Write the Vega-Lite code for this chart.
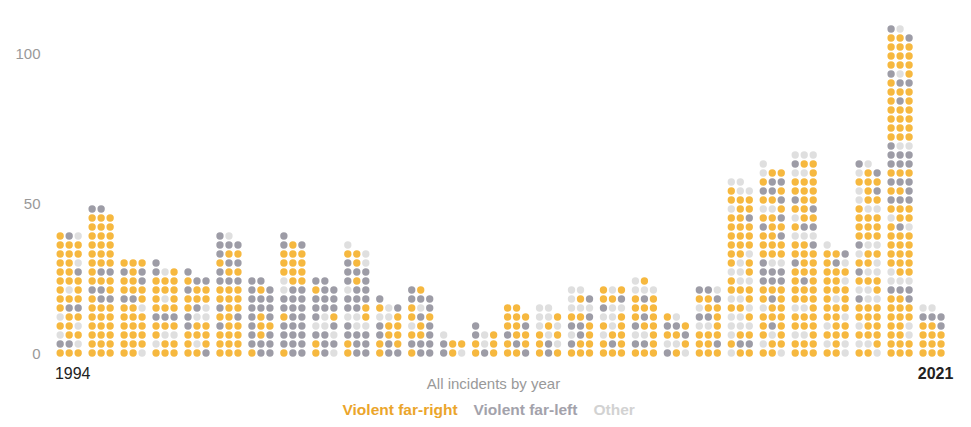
{
  "$schema": "https://vega.github.io/schema/vega-lite/v6.json",
  "width": 914,
  "height": 339,
  "autosize": {"type": "none"},
  "padding": {"left": 50, "top": 20, "right": 7, "bottom": 68},
  "background": "white",
  "config": {"view": {"stroke": null}, "font": "Liberation Sans"},
  "data": {"values": [
    {"year": 1994, "dots": ["O","O","O","G","G","L","L","O","O","O","O","L","L","O","O","O","G","G","O","O","O","O","L","O","O","O","O","O","O","G","O","O","L","O","O","O","O","O","O","O","G","L"]},
    {"year": 1995, "dots": ["O","O","O","O","O","O","O","O","O","O","O","O","O","O","O","O","O","O","O","G","G","G","G","O","O","O","O","O","G","G","O","O","O","O","O","O","O","O","O","O","O","O","O","O","O","O","O","O","G","G"]},
    {"year": 1996, "dots": ["O","O","L","O","O","O","O","O","O","O","O","O","O","O","O","O","O","L","G","G","O","O","O","O","O","O","G","G","O","G","O","O","O"]},
    {"year": 1997, "dots": ["O","O","O","L","O","O","O","L","L","O","O","O","G","G","G","O","O","O","O","L","O","O","O","O","O","O","O","G","L","O","G"]},
    {"year": 1998, "dots": ["O","O","G","O","L","O","O","O","O","G","O","O","G","L","L","O","G","L","O","O","O","G","O","O","O","G","G","G"]},
    {"year": 1999, "dots": ["O","O","O","O","O","O","O","O","O","G","O","O","O","O","G","G","O","O","O","O","O","O","O","O","G","G","G","G","O","O","O","G","G","G","O","O","G","G","G","G","L"]},
    {"year": 2000, "dots": ["O","G","G","G","G","G","G","O","G","G","O","O","G","O","G","G","G","G","G","G","G","G","O","G","G","G"]},
    {"year": 2001, "dots": ["O","G","G","G","G","G","G","G","G","G","G","G","O","G","G","G","G","G","G","G","G","L","G","G","L","O","O","O","O","O","O","O","O","O","O","O","G","O","G","G"]},
    {"year": 2002, "dots": ["O","G","L","O","G","G","G","G","L","L","L","G","G","L","O","G","G","G","G","G","G","O","G","G","G","G"]},
    {"year": 2003, "dots": ["O","G","G","O","G","G","G","G","G","G","L","L","L","L","O","G","G","O","G","G","G","L","G","G","G","O","G","G","G","G","G","O","L","O","O","L","L"]},
    {"year": 2004, "dots": ["O","G","G","O","G","O","G","O","O","G","O","O","L","L","O","O","L","G","G"]},
    {"year": 2005, "dots": ["O","G","G","G","G","G","O","O","G","L","O","G","O","G","O","O","L","G","G","G","G","G","O"]},
    {"year": 2006, "dots": ["G","O","L","G","O","O","L"]},
    {"year": 2007, "dots": ["O","G","O","O","L","O","G","L","O","G"]},
    {"year": 2008, "dots": ["O","O","G","O","G","O","G","O","O","O","O","G","O","O","O","O","O"]},
    {"year": 2009, "dots": ["O","G","O","O","G","L","O","L","O","L","O","L","L","L","O","L","L"]},
    {"year": 2010, "dots": ["O","O","O","G","O","O","L","G","O","G","G","O","O","O","G","L","L","L","L","O","G","L","L"]},
    {"year": 2011, "dots": ["O","O","O","O","G","O","L","O","O","O","L","O","L","L","O","G","L","L","O","O","G","O","L","O"]},
    {"year": 2012, "dots": ["O","O","O","G","G","O","L","L","O","G","O","O","O","G","O","O","O","O","O","G","O","L","L","L","L","O"]},
    {"year": 2013, "dots": ["G","O","L","L","L","O","O","O","G","G","G","O","O","L"]},
    {"year": 2014, "dots": ["O","O","O","O","O","G","O","O","O","L","L","O","G","G","O","L","O","O","O","O","G","G","G","L"]},
    {"year": 2015, "dots": ["L","O","O","O","G","G","L","O","O","L","L","L","L","L","O","O","O","L","L","L","O","O","O","O","O","L","L","L","L","O","O","L","O","O","O","L","O","O","O","O","O","O","O","O","O","O","O","G","L","O","O","O","O","O","O","L","L","L","L"]},
    {"year": 2016, "dots": ["O","O","L","L","O","O","O","L","O","O","G","O","O","O","O","L","O","O","O","G","O","O","O","O","G","G","G","G","G","G","G","L","L","O","O","O","O","O","O","O","O","G","G","O","O","O","O","G","L","L","O","O","O","G","G","G","O","O","G","G","L","O","O","L"]},
    {"year": 2017, "dots": ["O","O","O","O","O","O","L","L","O","O","O","O","O","O","O","L","L","O","O","O","O","O","O","O","O","G","O","O","O","O","G","O","O","O","O","O","O","O","G","L","L","L","O","G","G","L","O","O","O","O","G","G","O","O","O","O","O","O","O","O","L","L","O","G","O","O","L","L","L"]},
    {"year": 2018, "dots": ["O","O","L","L","O","L","O","O","O","L","O","O","O","O","L","O","O","O","O","L","O","O","O","O","O","O","L","O","O","O","O","G","L","O","O","G","L"]},
    {"year": 2019, "dots": ["O","O","L","L","L","O","O","O","O","L","O","O","O","O","O","O","O","O","G","L","L","L","L","O","O","O","O","G","L","L","O","O","L","L","O","O","G","L","L","O","O","O","O","O","O","O","O","O","O","L","L","L","O","O","L","O","G","O","O","O","L","O","G","G","L"]},
    {"year": 2020, "dots": ["O","O","O","O","O","O","O","O","L","O","O","L","O","O","O","O","O","O","O","O","G","G","G","G","L","L","L","L","O","O","O","O","O","O","O","O","O","O","O","O","O","O","O","G","L","L","O","O","O","O","O","G","G","G","O","O","G","G","G","G","O","O","O","G","G","G","G","G","G","G","L","L","O","O","O","O","O","O","O","O","O","O","O","O","O","G","O","O","O","O","O","G","G","G","L","O","O","O","O","O","O","O","O","O","O","O","O","G","G","L"]},
    {"year": 2021, "dots": ["O","O","O","O","O","O","O","O","O","O","O","G","G","G","G","L","L"]}
  ]},
  "transform": [
    {"flatten": ["dots"], "as": ["c"]},
    {"window": [{"op": "row_number", "as": "i"}], "groupby": ["year"]},
    {"calculate": "datum.year + ((datum.i - 1) % 3 - 1) * 0.2816", "as": "xpos"},
    {"calculate": "floor((datum.i - 1) / 3) * 3", "as": "ypos"}
  ],
  "mark": {"type": "circle", "size": 54, "opacity": 1},
  "encoding": {
    "x": {
      "field": "xpos", "type": "quantitative",
      "scale": {"domain": [1993.4, 2022], "nice": false, "zero": false},
      "axis": {
        "values": [1994, 2021], "format": "d", "domain": false, "ticks": false, "grid": false,
        "labelFontSize": 16, "labelColor": "#222", "labelPadding": 6, "labelOffset": 3,
        "labelFontWeight": {"condition": {"test": "datum.value == 2021", "value": "bold"}, "value": "normal"},
        "title": "All incidents by year", "titleColor": "#999", "titleFontSize": 15, "titleFontWeight": "normal",
        "titleX": 443, "titleY": 24, "titleBaseline": "middle", "titleAlign": "center"
      }
    },
    "y": {
      "field": "ypos", "type": "quantitative",
      "scale": {"domain": [-2, 111], "nice": false, "zero": false},
      "axis": {
        "values": [0, 50, 100], "domain": false, "ticks": false, "grid": false,
        "labelColor": "#999", "labelFontSize": 15, "labelPadding": 10, "title": null
      }
    },
    "color": {
      "field": "c", "type": "nominal",
      "scale": {"domain": ["O", "G", "L"], "range": ["#f6b83f", "#9d9ca6", "#dfdfdf"]},
      "legend": {
        "title": null, "orient": "none", "legendX": 277, "legendY": 382, "direction": "horizontal",
        "symbolSize": 0, "symbolOpacity": 0, "symbolStrokeWidth": 0, "labelOffset": 0, "columnPadding": -1,
        "labelFontSize": 15.5, "labelFontWeight": "bold",
        "labelExpr": "datum.value == 'O' ? 'Violent far-right' : datum.value == 'G' ? 'Violent far-left' : 'Other'",
        "labelColor": {"expr": "datum.value == 'O' ? '#eba52b' : datum.value == 'G' ? '#a3a2ab' : '#d2d2d2'"}
      }
    }
  }
}
